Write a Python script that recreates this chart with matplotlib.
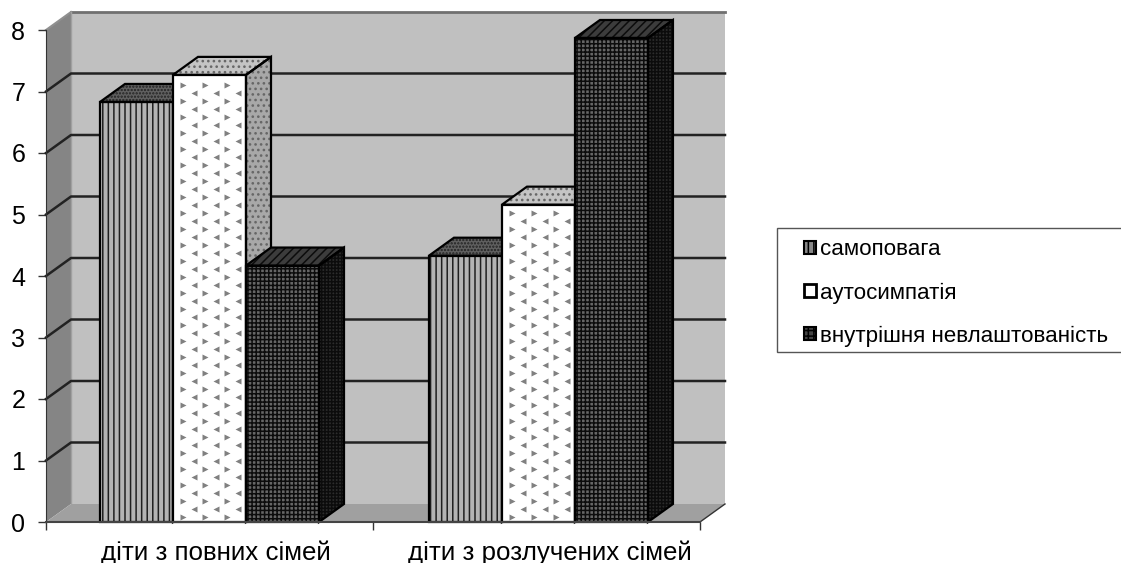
import matplotlib
matplotlib.use('Agg')
import matplotlib.pyplot as plt
import numpy as np
from matplotlib.patches import Polygon, Patch, Rectangle

matplotlib.rc('font', family=['Liberation Sans', 'DejaVu Sans'], size=18)
matplotlib.rcParams['hatch.linewidth'] = 1.1

categories = ['діти з повних сімей', 'діти з розлучених сімей']
series_names = ['самоповага', 'аутосимпатія', 'внутрішня невлаштованість']
samopovaga = [6.83, 4.33]
autosympathy = [7.27, 5.16]
discomfort = [4.17, 7.87]
y_ticks = [0, 1, 2, 3, 4, 5, 6, 7, 8]

W, H = 1121, 563
# front plane of the 3d box, in pixels
left, right, bottom, top = 46, 700, 522, 30

fig = plt.figure(figsize=(W / 100, H / 100), dpi=100)
ax = fig.add_axes([left / W, 1 - bottom / H, (right - left) / W, (bottom - top) / H])
ax.set_xlim(0, 2)
ax.set_ylim(0, 8)
ax.patch.set_visible(False)

# depth of the box in data units
dx = 25 / (right - left) * 2
dy = 18 / (bottom - top) * 8
bar_w = 73 / (right - left) * 2
group_centers = [0.5, 1.506]


def poly(points, face, edge='none', hatch=None, lw=0.0, z=1):
    ax.add_patch(Polygon(points, closed=True, facecolor=face, edgecolor=edge, hatch=hatch,
                         linewidth=lw, zorder=z, clip_on=False))


def outlined(points, face, hatch_color, hatch, z):
    poly(points, face, hatch_color, hatch, 0, z)
    poly(points, 'none', 'black', None, 1.6, z + 0.2)


# walls and floor
poly([(0, 0), (dx, dy), (dx, 8 + dy), (0, 8)], '#858585', z=1)
poly([(dx, dy), (2 + dx, dy), (2 + dx, 8 + dy), (dx, 8 + dy)], '#c0c0c0', z=1)
poly([(0, 0), (2, 0), (2 + dx, dy), (dx, dy)], '#a0a0a0', z=1)
ax.plot([dx, 2 + dx], [8 + dy, 8 + dy], color='#707070', lw=2, zorder=1.5, clip_on=False)
ax.plot([0, dx], [8, 8 + dy], color='#909090', lw=1.5, zorder=1.5, clip_on=False)
ax.plot([dx, dx], [dy, 8 + dy], color='#a0a0a0', lw=1, zorder=1.5, clip_on=False)
ax.plot([2, 2 + dx], [0, dy], color='#333333', lw=1, zorder=1.5, clip_on=False)

# gridlines run along the back wall and the left wall
for t in y_ticks[1:-1]:
    ax.plot([0, dx, 2 + dx], [t, t + dy, t + dy], color='#222222', lw=1.8, zorder=1.6, clip_on=False)

styles = [
    dict(front=('#b4b4b4', '#202020', '|||'), side=('#555555', '#111111', '|||'), top=('#606060', '#222222', '.....')),
    dict(front=('white', 'white', None), side=('#a8a8a8', '#666666', '...'), top=('#c4c4c4', '#666666', '...')),
    dict(front=('#666666', '#0c0c0c', '++++'), side=('#2c2c2c', '#0c0c0c', '+++++'), top=('#3c3c3c', '#0c0c0c', '////')),
]
all_values = [samopovaga, autosympathy, discomfort]

z = 3
for g in range(len(categories)):
    for s in range(len(series_names)):
        val = all_values[s][g]
        x0 = group_centers[g] + (s - 1.5) * bar_w
        x1 = x0 + bar_w
        st = styles[s]
        outlined([(x0, val), (x1, val), (x1 + dx, val + dy), (x0 + dx, val + dy)], *st['top'], z)
        outlined([(x1, 0), (x1 + dx, dy), (x1 + dx, val + dy), (x1, val)], *st['side'], z)
        outlined([(x0, 0), (x1, 0), (x1, val), (x0, val)], *st['front'], z + 0.1)
        if s == 1:
            # small grey triangles on the white face
            col_step = 11 / (right - left) * 2
            row_step = 8 / (bottom - top) * 8
            for c, cx in enumerate(np.arange(x0 + col_step * 0.9, x1 - col_step * 0.4, col_step)):
                for r, cy in enumerate(np.arange(row_step * 0.6, val - row_step * 0.4, row_step)):
                    if (c + r) % 2 == 0:
                        mark = '>' if c % 2 == 0 else '<'
                        ax.plot(cx, cy, marker=mark, ms=5, color='#808080', mec='none', zorder=z + 0.15, clip_on=False)
        z += 1

# axes
for name in ['top', 'right']:
    ax.spines[name].set_visible(False)
ax.spines['left'].set_color('#333333')
ax.spines['bottom'].set_color('#444444')
ax.spines['bottom'].set_linewidth(1.5)
ax.spines['bottom'].set_zorder(50)
ax.set_yticks(y_ticks)
ax.set_xticks([0, 1, 2])
ax.set_xticklabels([])
# the labels sit a little right of the group centres in the reference
ax.set_xticks([0.518, 1.54], minor=True)
ax.set_xticklabels(categories, minor=True, fontsize=18.6)
ax.tick_params(axis='y', length=6, width=1, color='#333333', pad=9)
ax.tick_params(axis='x', which='major', length=6, width=1, color='#333333')
ax.tick_params(axis='x', which='minor', length=0, pad=13)

# legend box runs off the right edge of the picture
fig.add_artist(Rectangle((777 / W, 1 - 352 / H), 360 / W, 124 / H, transform=fig.transFigure,
                         facecolor='white', edgecolor='#555555', linewidth=1))
handles = [Patch(facecolor='#888888', edgecolor='black', hatch='|||', lw=1.5),
           Patch(facecolor='white', edgecolor='black', lw=2),
           Patch(facecolor='#444444', edgecolor='black', hatch='+++', lw=1.5)]
leg = fig.legend(handles, series_names, loc='center left', bbox_to_anchor=(804 / W, 1 - 293 / H),
                 frameon=False, handlelength=0.55, handleheight=0.55, handletextpad=0.15,
                 labelspacing=0.98, borderpad=0, borderaxespad=0, fontsize=16.1)

fig.savefig('out.png', dpi=100)
